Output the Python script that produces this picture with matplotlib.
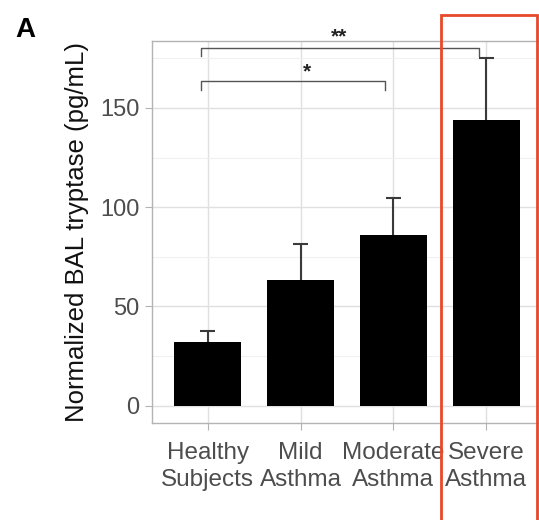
import matplotlib
matplotlib.use("Agg")
import matplotlib.pyplot as plt
from matplotlib.patches import Rectangle

plt.rcParams.update({
    "font.family": ["Liberation Sans", "DejaVu Sans"],
})

# data
groups = ["Healthy\nSubjects", "Mild\nAsthma", "Moderate\nAsthma", "Severe\nAsthma"]
means = [32.0, 63.2, 85.9, 143.8]
upper = [37.5, 81.3, 104.6, 175.0]
yticks = [0, 50, 100, 150]
minor_yticks = [25, 75, 125, 175]
# significance brackets: (left, right, height, drop, label, label_x, label_y)
brackets = [
    (-0.076, 2.924, 180.0, 4.0, "**", 1.41, 186.0),
    (-0.076, 1.913, 163.4, 4.5, "*", 1.07, 168.0),
]

grey_line = "#b3b3b3"
grey_text = "#4d4d4d"

fig = plt.figure(figsize=(5.39, 5.20), dpi=100)
ax = fig.add_axes([152 / 539, 1 - 423 / 520, 390 / 539, 382 / 520])

x = list(range(len(groups)))
ax.bar(x, means, width=0.72, color="black", zorder=3)
ax.vlines(x, means, upper, color="#3a3a3a", lw=1.5, zorder=2)
ax.hlines(upper, [i - 0.08 for i in x], [i + 0.08 for i in x],
          color="#3a3a3a", lw=1.5, zorder=2)

for l, r, h, d, lab, lx, ly in brackets:
    ax.plot([l, l, r, r], [h - d, h, h, h - d], color="#555555", lw=1.0,
            clip_on=False, zorder=4)
    ax.text(lx, ly, lab, ha="center", va="center", fontsize=15,
            fontweight="bold", color="#222222", clip_on=False)

ax.set_xlim(-0.6, 3.6)
ax.set_ylim(-8.75, 183.75)
ax.set_xticks(x)
ax.set_xticklabels(groups, fontsize=17.5, color=grey_text, linespacing=1.28)
ax.set_yticks(yticks)
ax.set_yticks(minor_yticks, minor=True)
ax.tick_params(axis="y", labelsize=17, labelcolor=grey_text, color=grey_line,
               length=5, width=0.8, pad=4)
ax.tick_params(axis="y", which="minor", length=0)
ax.tick_params(axis="x", color=grey_line, length=5, width=0.8, pad=8.5)
ax.set_ylabel("Normalized BAL tryptase (pg/mL)", fontsize=18.5, color="#111111",
              labelpad=8)

ax.grid(True, which="major", color="#e0e0e0", lw=1.0, zorder=0)
ax.grid(True, which="minor", axis="y", color="#f0f0f0", lw=0.8, zorder=0)
ax.set_axisbelow(True)
for s in ax.spines.values():
    s.set_color(grey_line)
    s.set_linewidth(1.0)

fig.text(15 / 539, 1 - 30 / 520, "A", fontsize=20, fontweight="bold",
         va="center", ha="left")

fig.patches.append(Rectangle((441 / 539, -0.05), 96 / 539, 1.05 - 15 / 520,
                             transform=fig.transFigure, fill=False,
                             edgecolor="#e8492b", lw=2.0, zorder=10))

fig.savefig("out.png", dpi=100)
